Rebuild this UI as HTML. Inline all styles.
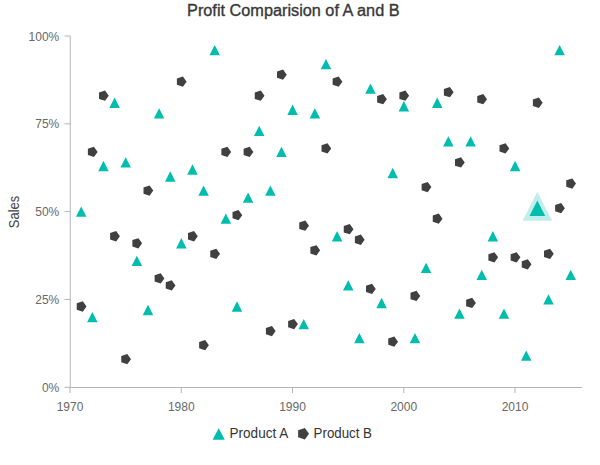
<!DOCTYPE html>
<html><head><meta charset="utf-8"><style>
html,body{margin:0;padding:0;background:#fff;width:600px;height:465px;overflow:hidden}
svg{display:block}
text{font-family:"Liberation Sans",sans-serif}
</style></head><body>
<svg width="600" height="465" viewBox="0 0 600 465">
<rect x="0" y="0" width="600" height="465" fill="#ffffff"/>
<text x="293.3" y="15.5" text-anchor="middle" font-size="16" font-weight="normal" fill="#383838" stroke="#383838" stroke-width="0.35" textLength="212.5" lengthAdjust="spacingAndGlyphs">Profit Comparision of A and B</text>
<text transform="translate(19.4 212) rotate(-90)" x="0" y="0" text-anchor="middle" font-size="14" fill="#424242" textLength="32.3" lengthAdjust="spacingAndGlyphs">Sales</text>
<path d="M70.25 35.8V387" stroke="#b5b5b5" stroke-width="1" fill="none"/>
<path d="M70 387.5H582" stroke="#b5b5b5" stroke-width="1" fill="none"/>
<path d="M64.5 387.3H70M64.5 299.48H70M64.5 211.65H70M64.5 123.83H70M64.5 36H70M70 387V393M181.25 387V393M292.5 387V393M403.75 387V393M515 387V393" stroke="#b5b5b5" stroke-width="1" fill="none"/>
<text x="59.3" y="391.9" text-anchor="end" font-size="13" fill="#686868" textLength="17.38" lengthAdjust="spacingAndGlyphs">0%</text>
<text x="59.3" y="304.08" text-anchor="end" font-size="13" fill="#686868" textLength="24.02" lengthAdjust="spacingAndGlyphs">25%</text>
<text x="59.3" y="216.25" text-anchor="end" font-size="13" fill="#686868" textLength="24.02" lengthAdjust="spacingAndGlyphs">50%</text>
<text x="59.3" y="128.43" text-anchor="end" font-size="13" fill="#686868" textLength="24.02" lengthAdjust="spacingAndGlyphs">75%</text>
<text x="59.3" y="40.6" text-anchor="end" font-size="13" fill="#686868" textLength="30.7" lengthAdjust="spacingAndGlyphs">100%</text>
<text x="70" y="411" text-anchor="middle" font-size="12" fill="#686868">1970</text>
<text x="181.25" y="411" text-anchor="middle" font-size="12" fill="#686868">1980</text>
<text x="292.5" y="411" text-anchor="middle" font-size="12" fill="#686868">1990</text>
<text x="403.75" y="411" text-anchor="middle" font-size="12" fill="#686868">2000</text>
<text x="515" y="411" text-anchor="middle" font-size="12" fill="#686868">2010</text>
<path d="M75.97 216.8L81.22 206.5L86.48 216.8ZM87.1 322.19L92.35 311.89L97.6 322.19ZM98.22 171.13L103.47 160.83L108.73 171.13ZM109.35 107.9L114.6 97.6L119.85 107.9ZM120.47 167.62L125.72 157.32L130.97 167.62ZM131.6 265.98L136.85 255.68L142.1 265.98ZM142.72 315.16L147.97 304.86L153.22 315.16ZM153.85 118.44L159.1 108.14L164.35 118.44ZM164.97 181.67L170.22 171.37L175.47 181.67ZM176.1 248.42L181.35 238.12L186.6 248.42ZM187.22 174.64L192.47 164.34L197.72 174.64ZM198.35 195.72L203.6 185.42L208.85 195.72ZM209.47 55.2L214.72 44.9L219.97 55.2ZM220.6 223.83L225.85 213.53L231.1 223.83ZM231.72 311.65L236.97 301.35L242.22 311.65ZM242.85 202.75L248.1 192.45L253.35 202.75ZM253.97 136L259.23 125.7L264.47 136ZM265.1 195.72L270.35 185.42L275.6 195.72ZM276.23 157.08L281.48 146.78L286.72 157.08ZM287.35 114.92L292.6 104.62L297.85 114.92ZM298.48 329.22L303.73 318.92L308.97 329.22ZM309.6 118.44L314.85 108.14L320.1 118.44ZM320.73 69.25L325.98 58.95L331.22 69.25ZM331.85 241.39L337.1 231.09L342.35 241.39ZM342.98 290.57L348.23 280.27L353.47 290.57ZM354.1 343.27L359.35 332.97L364.6 343.27ZM365.23 93.84L370.48 83.54L375.72 93.84ZM376.35 308.14L381.6 297.84L386.85 308.14ZM387.48 178.16L392.73 167.86L397.97 178.16ZM398.6 111.41L403.85 101.11L409.1 111.41ZM409.73 343.27L414.98 332.97L420.22 343.27ZM420.85 273.01L426.1 262.71L431.35 273.01ZM431.98 107.9L437.23 97.6L442.47 107.9ZM443.1 146.54L448.35 136.24L453.6 146.54ZM454.23 318.68L459.48 308.38L464.72 318.68ZM465.35 146.54L470.6 136.24L475.85 146.54ZM476.48 280.03L481.73 269.73L486.97 280.03ZM487.6 241.39L492.85 231.09L498.1 241.39ZM498.73 318.68L503.98 308.38L509.22 318.68ZM509.85 171.13L515.1 160.83L520.35 171.13ZM520.98 360.83L526.23 350.53L531.48 360.83ZM532.1 213.29L537.35 202.99L542.6 213.29ZM543.23 304.62L548.48 294.33L553.73 304.62ZM554.35 55.2L559.6 44.9L564.85 55.2ZM565.48 280.03L570.73 269.73L575.98 280.03Z" fill="#00bdae"/>
<path d="M86.53 306.5L82.79 311.64L76.76 309.68L76.76 303.33L82.79 301.37ZM97.65 151.93L93.92 157.06L87.88 155.1L87.88 148.75L93.92 146.79ZM108.78 95.72L105.04 100.86L99.01 98.9L99.01 92.55L105.04 90.59ZM119.9 236.24L116.17 241.38L110.13 239.42L110.13 233.07L116.17 231.11ZM131.03 359.2L127.29 364.33L121.26 362.37L121.26 356.02L127.29 354.06ZM142.15 243.27L138.42 248.4L132.38 246.44L132.38 240.09L138.42 238.13ZM153.28 190.57L149.54 195.71L143.51 193.75L143.51 187.4L149.54 185.44ZM164.4 278.4L160.67 283.53L154.63 281.57L154.63 275.22L160.67 273.26ZM175.53 285.42L171.79 290.56L165.76 288.6L165.76 282.25L171.79 280.29ZM186.65 81.67L182.92 86.8L176.88 84.84L176.88 78.49L182.92 76.53ZM197.78 236.24L194.04 241.38L188.01 239.42L188.01 233.07L194.04 231.11ZM208.9 345.14L205.17 350.28L199.13 348.32L199.13 341.97L205.17 340.01ZM220.03 253.81L216.29 258.94L210.26 256.98L210.26 250.63L216.29 248.67ZM231.15 151.93L227.42 157.06L221.38 155.1L221.38 148.75L227.42 146.79ZM242.28 215.16L238.54 220.3L232.51 218.34L232.51 211.99L238.54 210.03ZM253.4 151.93L249.67 157.06L243.63 155.1L243.63 148.75L249.67 146.79ZM264.52 95.72L260.79 100.86L254.76 98.9L254.76 92.55L260.79 90.59ZM275.65 331.09L271.92 336.23L265.88 334.27L265.88 327.92L271.92 325.96ZM286.77 74.64L283.04 79.78L277.01 77.82L277.01 71.47L283.04 69.51ZM297.9 324.07L294.17 329.2L288.13 327.24L288.13 320.89L294.17 318.93ZM309.02 225.7L305.29 230.84L299.26 228.88L299.26 222.53L305.29 220.57ZM320.15 250.29L316.42 255.43L310.38 253.47L310.38 247.12L316.42 245.16ZM331.27 148.42L327.54 153.55L321.51 151.59L321.51 145.24L327.54 143.28ZM342.4 81.67L338.67 86.8L332.63 84.84L332.63 78.49L338.67 76.53ZM353.52 229.22L349.79 234.35L343.76 232.39L343.76 226.04L349.79 224.08ZM364.65 239.75L360.92 244.89L354.88 242.93L354.88 236.58L360.92 234.62ZM375.77 288.94L372.04 294.07L366.01 292.11L366.01 285.76L372.04 283.8ZM386.9 99.23L383.17 104.37L377.13 102.41L377.13 96.06L383.17 94.1ZM398.02 341.63L394.29 346.77L388.26 344.81L388.26 338.46L394.29 336.5ZM409.15 95.72L405.42 100.86L399.38 98.9L399.38 92.55L405.42 90.59ZM420.27 295.96L416.54 301.1L410.51 299.14L410.51 292.79L416.54 290.83ZM431.4 187.06L427.67 192.19L421.63 190.23L421.63 183.88L427.67 181.92ZM442.52 218.68L438.79 223.81L432.76 221.85L432.76 215.5L438.79 213.54ZM453.65 92.21L449.92 97.34L443.88 95.38L443.88 89.03L449.92 87.07ZM464.77 162.47L461.04 167.6L455.01 165.64L455.01 159.29L461.04 157.33ZM475.9 302.99L472.17 308.12L466.13 306.16L466.13 299.81L472.17 297.85ZM487.02 99.23L483.29 104.37L477.26 102.41L477.26 96.06L483.29 94.1ZM498.15 257.32L494.42 262.45L488.38 260.49L488.38 254.14L494.42 252.18ZM509.27 148.42L505.54 153.55L499.51 151.59L499.51 145.24L505.54 143.28ZM520.4 257.32L516.67 262.45L510.63 260.49L510.63 254.14L516.67 252.18ZM531.52 264.35L527.79 269.48L521.76 267.52L521.76 261.17L527.79 259.21ZM542.65 102.75L538.92 107.88L532.88 105.92L532.88 99.57L538.92 97.61ZM553.77 253.81L550.04 258.94L544.01 256.98L544.01 250.63L550.04 248.67ZM564.9 208.14L561.17 213.27L555.13 211.31L555.13 204.96L561.17 203ZM576.02 183.55L572.29 188.68L566.26 186.72L566.26 180.37L572.29 178.41Z" fill="#404041"/>
<path d="M522.65 220.84L537.35 191.64L552.05 220.84Z" fill="#00bdae" opacity="0.25"/>
<path d="M529.5 215.89L537.35 200.39L545.2 215.89Z" fill="#00bdae"/>
<path d="M212.6 439.7L218.7 428.3L224.8 439.7Z" fill="#00bdae"/>
<text x="229.6" y="438.4" font-size="14.5" fill="#353535" textLength="58.6" lengthAdjust="spacingAndGlyphs">Product A</text>
<path d="M309 433.8L304.85 439.51L298.15 437.33L298.15 430.27L304.85 428.09Z" fill="#404041"/>
<text x="313.6" y="438.4" font-size="14.5" fill="#353535" textLength="58.4" lengthAdjust="spacingAndGlyphs">Product B</text>
</svg>
</body></html>
